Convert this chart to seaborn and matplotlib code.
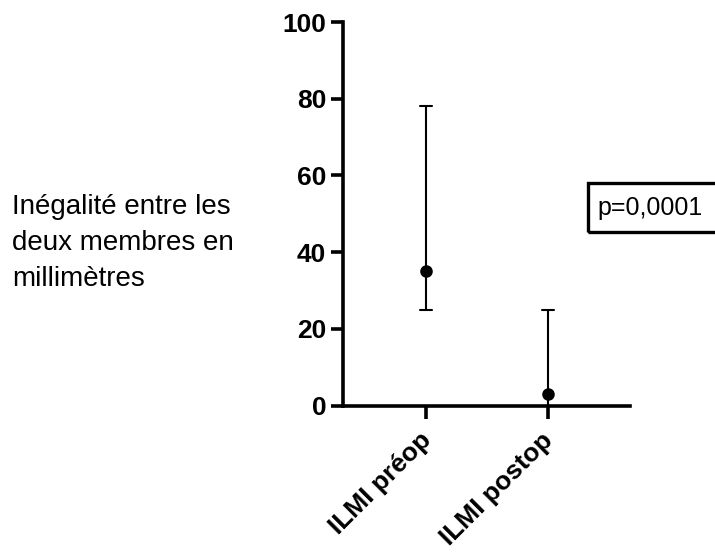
import pandas as pd
import matplotlib.pyplot as plt
import matplotlib.patches as mpatches
import matplotlib.transforms as mtransforms
import seaborn as sns

# valeurs (médiane, min, max)
categories = ['ILMI préop', 'ILMI postop']
lows = [25, 0]
medians = [35, 3]
highs = [78, 25]

# tableau long pour seaborn : médiane + étendue min-max
rows = []
for cat, lo, med, hi in zip(categories, lows, medians, highs):
    for v in (lo, med, hi):
        rows.append({'groupe': cat, 'valeur': v})
data = pd.DataFrame(rows)

sns.set_style("ticks")
plt.rcParams['font.family'] = ['Liberation Sans', 'DejaVu Sans']
plt.rcParams['text.color'] = 'black'
plt.rcParams['xtick.color'] = 'black'
plt.rcParams['ytick.color'] = 'black'

fig = plt.figure(figsize=(7.15, 5.57), dpi=100)
ax = fig.add_axes([343 / 715, 1 - 405.7 / 557, 287 / 715, 383.7 / 557])

sns.pointplot(data=data, x='groupe', y='valeur', order=categories,
              estimator='median', errorbar=('pi', 100), capsize=0.1,
              linestyle='none', color='black', markersize=7,
              err_kws={'linewidth': 1.5}, ax=ax)

ax.set_xlim(-0.68, 1.672)
ax.set_ylim(0, 100)
ax.set_yticks([0, 20, 40, 60, 80, 100])
ax.set_xlabel('')
ax.set_ylabel('')

for side in ['top', 'right']:
    ax.spines[side].set_visible(False)
for side in ['left', 'bottom']:
    ax.spines[side].set_linewidth(2.6)
    ax.spines[side].set_color('black')
ax.tick_params(axis='both', width=2.6, length=9, color='black', pad=3)
for lab in ax.get_yticklabels():
    lab.set_fontsize(19)
    lab.set_fontweight('bold')
    lab.set_color('black')
ax.set_xticks(range(len(categories)))
ax.set_xticklabels(categories, rotation=45, ha='right', va='top',
                   rotation_mode='anchor', fontsize=19, fontweight='bold',
                   color='black')
# petit décalage des étiquettes x vers la gauche et le bas
shift = mtransforms.ScaledTranslation(-5 / 72, -4 / 72, fig.dpi_scale_trans)
for lab in ax.get_xticklabels():
    lab.set_transform(lab.get_transform() + shift)

# titre de l'axe à gauche
fig.text(12 / 715, 1 - 243 / 557,
         'Inégalité entre les\ndeux membres en\nmillimètres',
         ha='left', va='center', fontsize=20, linespacing=1.48)

# encadré p-value
box = mpatches.Rectangle((588 / 715, 1 - 232 / 557), 150 / 715, 49 / 557,
                         transform=fig.transFigure, fill=False,
                         edgecolor='black', linewidth=2.4, clip_on=False)
fig.add_artist(box)
fig.text(597 / 715, 1 - 208 / 557, 'p=0,0001', ha='left', va='center',
         fontsize=18)

plt.savefig('out.png', dpi=100)
